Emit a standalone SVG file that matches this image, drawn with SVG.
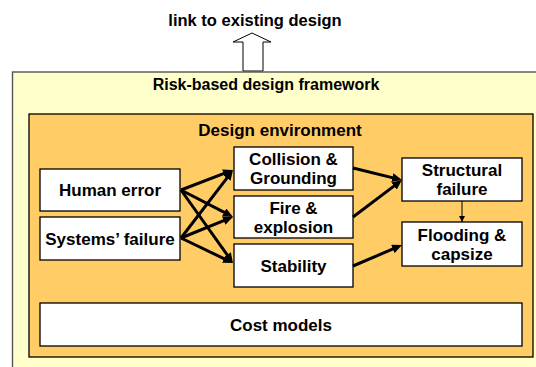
<svg xmlns="http://www.w3.org/2000/svg" width="536" height="367" viewBox="0 0 536 367">
<defs>
<marker id="ah" markerUnits="userSpaceOnUse" markerWidth="10" markerHeight="9" refX="4" refY="4.5" orient="auto">
<path d="M0,0 L10,4.5 L0,9 z" fill="#000"/>
</marker>
<marker id="ahs" markerUnits="userSpaceOnUse" markerWidth="6" markerHeight="6" refX="6" refY="3" orient="auto">
<path d="M0,0 L6,3 L0,6 z" fill="#000"/>
</marker>
</defs>
<style>
text{font-family:"Liberation Sans",Arial,sans-serif;font-weight:bold;fill:#000;text-anchor:middle}
.t{font-size:16px}
.b{font-size:17px}
.box{fill:#fff;stroke:#000;stroke-width:1.3}
.c line{stroke:#000;stroke-width:3;marker-end:url(#ah)}
</style>
<g id="title">
<text x="255" y="26" style="font-size:16.5px">link to existing design</text>
<polygon points="243,71 243,42 233,42 252,33 271,42 263,42 263,71" fill="#fff" stroke="#000" stroke-width="1"/>
</g>
<g id="framework">
<rect x="12.5" y="72" width="540" height="310" fill="#FFFFCC" stroke="#555" stroke-width="1.4"/>
<text class="t" x="266" y="90">Risk-based design framework</text>
</g>
<g id="environment">
<rect x="29" y="114" width="504" height="243" fill="#FFCC66" stroke="#000" stroke-width="1.3"/>
<text class="b" x="280" y="136">Design environment</text>
</g>
<g id="human-error">
<rect class="box" x="40" y="169" width="140" height="42"/>
<text class="b" x="110" y="196">Human error</text>
</g>
<g id="systems-failure">
<rect class="box" x="40" y="217" width="140" height="43"/>
<text class="b" x="110" y="244.5">Systems’ failure</text>
</g>
<g id="collision">
<rect class="box" x="234" y="147" width="119" height="43"/>
<text class="b" x="293.5" y="165">Collision &amp;</text>
<text class="b" x="293.5" y="184">Grounding</text>
</g>
<g id="fire">
<rect class="box" x="234" y="196" width="119" height="42"/>
<text class="b" x="293.5" y="213.5">Fire &amp;</text>
<text class="b" x="293.5" y="232.5">explosion</text>
</g>
<g id="stability">
<rect class="box" x="234" y="244" width="119" height="43"/>
<text class="b" x="293.5" y="271.5">Stability</text>
</g>
<g id="structural">
<rect class="box" x="402" y="158" width="120" height="43"/>
<text class="b" x="462" y="176">Structural</text>
<text class="b" x="462" y="195">failure</text>
</g>
<g id="flooding">
<rect class="box" x="402" y="222" width="120" height="44"/>
<text class="b" x="462" y="240.5">Flooding &amp;</text>
<text class="b" x="462" y="259.5">capsize</text>
</g>
<g id="cost">
<rect class="box" x="40" y="303" width="482" height="43"/>
<text class="b" x="281" y="330.5">Cost models</text>
</g>
<g id="connectors" class="c">
<line x1="181" y1="190" x2="227.4" y2="172.2"/>
<line x1="181" y1="190" x2="227.7" y2="214.2"/>
<line x1="181" y1="190" x2="229.5" y2="258.1"/>
<line x1="181" y1="238" x2="229.4" y2="174.8"/>
<line x1="181" y1="238" x2="227.4" y2="219.2"/>
<line x1="181" y1="238" x2="227.6" y2="260.4"/>
<line x1="353" y1="168" x2="396.2" y2="178.6"/>
<line x1="353" y1="217" x2="397.2" y2="183.6"/>
<line x1="353" y1="266" x2="396.5" y2="247.4"/>
<line x1="462" y1="201" x2="462" y2="222" style="stroke-width:1;marker-end:url(#ahs)"/>
</g>
</svg>
